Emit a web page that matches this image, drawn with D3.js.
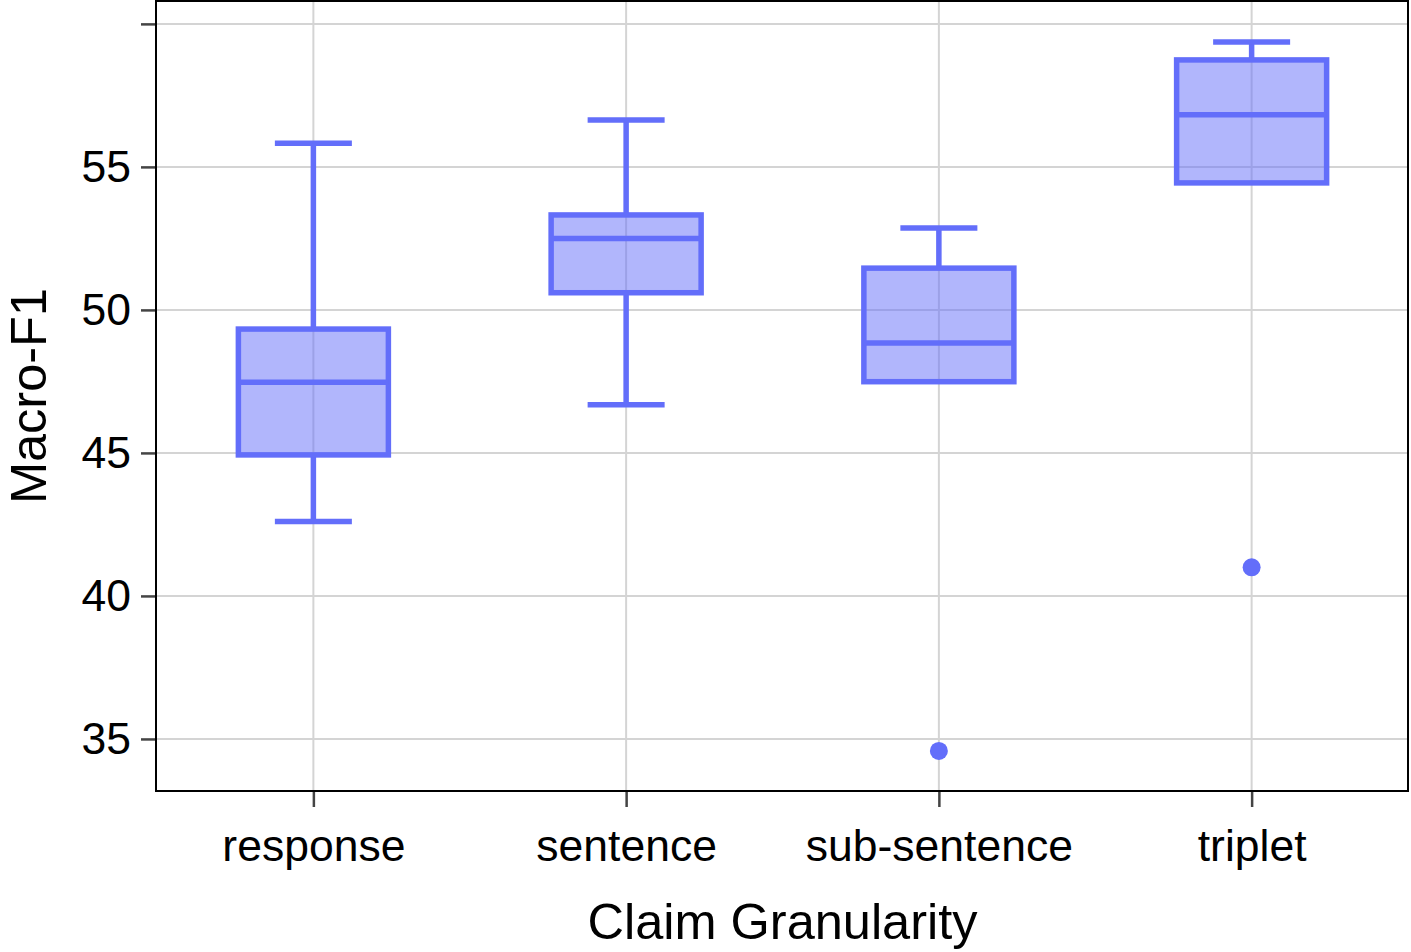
<!DOCTYPE html>
<html>
<head>
<meta charset="utf-8">
<script src="https://cdn.jsdelivr.net/npm/d3@7"></script>
<style>
  body { margin: 0; background: #fff; }
  text { font-family: "Liberation Sans", Arial, sans-serif; fill: #000; }
</style>
</head>
<body>
<svg id="chart" width="1411" height="952"></svg>
<script>
const categories = ['response', 'sentence', 'sub-sentence', 'triplet']
const lowerFence = [42.6, 46.68, 47.49, 54.44]
const q1 = [44.93, 50.6, 47.49, 54.44]
const median = [47.47, 52.5, 48.84, 56.82]
const q3 = [49.33, 53.32, 51.46, 58.74]
const upperFence = [55.83, 56.64, 52.86, 59.37]
const outliers = [[], [], [34.58], [41.0]]
const yTicks = [35, 40, 45, 50, 55, 60]
const yTickLabels = ['35', '40', '45', '50', '55', '']

const svg = d3.select('#chart')
const color = '#636efa'
const gridColor = '#d4d4d4'

const plotLeft = 157, plotRight = 1408, plotTop = 1, plotBottom = 791

const data = categories.map((c, i) => ({
  cat: c,
  lo: lowerFence[i], q1: q1[i], med: median[i], q3: q3[i], hi: upperFence[i],
  out: outliers[i]
}))

const x = d3.scalePoint()
  .domain(categories)
  .range([plotLeft, plotRight])
  .padding(0.5)

const y = d3.scaleLinear()
  .domain([33.18, 60.8])
  .range([plotBottom, plotTop])

const boxHalf = 75
const capHalf = 38.5
const sw = 5.5

// grid
svg.append('g')
  .selectAll('line')
  .data(yTicks)
  .enter()
  .append('line')
    .attr('x1', plotLeft).attr('x2', plotRight)
    .attr('y1', d => y(d)).attr('y2', d => y(d))
    .attr('stroke', gridColor)
    .attr('stroke-width', 2)

svg.append('g')
  .selectAll('line')
  .data(categories)
  .enter()
  .append('line')
    .attr('x1', d => x(d)).attr('x2', d => x(d))
    .attr('y1', plotTop).attr('y2', plotBottom)
    .attr('stroke', gridColor)
    .attr('stroke-width', 2)

// boxes
const boxes = svg.selectAll('g.box')
  .data(data)
  .enter()
  .append('g')
    .attr('class', 'box')
    .attr('transform', d => `translate(${x(d.cat)}, 0)`)

boxes.append('line')
  .attr('x1', 0).attr('x2', 0)
  .attr('y1', d => y(d.hi)).attr('y2', d => y(d.q3))
  .attr('stroke', color).attr('stroke-width', sw)

boxes.append('line')
  .attr('x1', 0).attr('x2', 0)
  .attr('y1', d => y(d.q1)).attr('y2', d => y(d.lo))
  .attr('stroke', color).attr('stroke-width', sw)

boxes.append('line')
  .attr('x1', -capHalf).attr('x2', capHalf)
  .attr('y1', d => y(d.hi)).attr('y2', d => y(d.hi))
  .attr('stroke', color).attr('stroke-width', sw)

boxes.filter(d => d.lo < d.q1)
  .append('line')
  .attr('x1', -capHalf).attr('x2', capHalf)
  .attr('y1', d => y(d.lo)).attr('y2', d => y(d.lo))
  .attr('stroke', color).attr('stroke-width', sw)

boxes.append('rect')
  .attr('x', -boxHalf)
  .attr('width', boxHalf * 2)
  .attr('y', d => y(d.q3))
  .attr('height', d => y(d.q1) - y(d.q3))
  .attr('fill', color).attr('fill-opacity', 0.5)
  .attr('stroke', color).attr('stroke-width', sw)

boxes.append('line')
  .attr('x1', -boxHalf).attr('x2', boxHalf)
  .attr('y1', d => y(d.med)).attr('y2', d => y(d.med))
  .attr('stroke', color).attr('stroke-width', sw)

boxes.selectAll('circle')
  .data(d => d.out)
  .enter()
  .append('circle')
    .attr('cx', 0)
    .attr('cy', d => y(d))
    .attr('r', 9)
    .attr('fill', color)

// frame
svg.append('rect')
  .attr('x', plotLeft - 1).attr('y', plotTop)
  .attr('width', plotRight - plotLeft + 1).attr('height', plotBottom - plotTop)
  .attr('fill', 'none')
  .attr('stroke', '#000')
  .attr('stroke-width', 2)

// axes
const yAxis = d3.axisLeft(y)
  .tickValues(yTicks)
  .tickFormat((d, i) => yTickLabels[i])
  .tickSize(14)
  .tickPadding(10)

const yAxisG = svg.append('g')
  .attr('transform', `translate(${plotLeft - 2}, 0)`)
  .call(yAxis)

const xAxis = d3.axisBottom(x)
  .tickSize(15)
  .tickPadding(14)

const xAxisG = svg.append('g')
  .attr('transform', `translate(0, ${plotBottom + 1})`)
  .call(xAxis)

svg.selectAll('path.domain').remove()
svg.selectAll('.tick line')
  .attr('stroke', '#444')
  .attr('stroke-width', 2.5)
svg.selectAll('.tick text')
  .attr('font-size', '44.5px')
  .attr('font-family', '"Liberation Sans", Arial, sans-serif')
  .attr('fill', '#000')

xAxisG.selectAll('.tick text').attr('dy', '0.9em')

// titles
svg.append('text')
  .attr('x', (plotLeft + plotRight) / 2)
  .attr('y', 939)
  .attr('text-anchor', 'middle')
  .attr('font-size', '50.5px')
  .text('Claim Granularity')

svg.append('text')
  .attr('transform', `translate(46, ${(plotTop + plotBottom) / 2}) rotate(-90)`)
  .attr('text-anchor', 'middle')
  .attr('font-size', '50.5px')
  .text('Macro-F1')
</script>
</body>
</html>
